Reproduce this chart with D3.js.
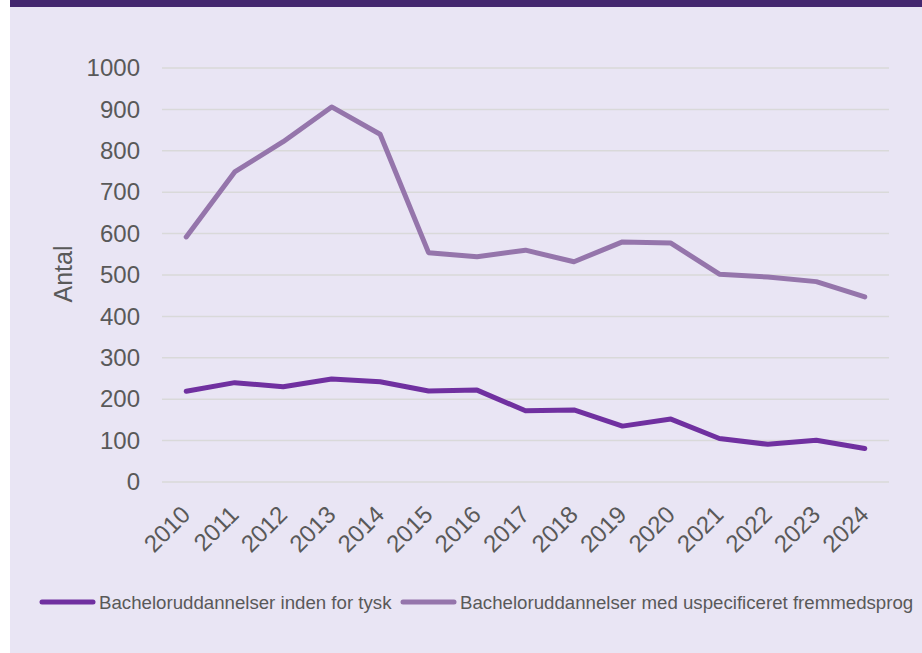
<!DOCTYPE html>
<html lang="da">
<head>
<meta charset="UTF-8">
<title>Bacheloruddannelser</title>
<script src="https://d3js.org/d3.v7.min.js"></script>
<style>
  html, body { margin: 0; padding: 0; background: #ffffff; }
  text { font-family: "Liberation Sans", Arial, sans-serif; fill: #595959; }
</style>
</head>
<body>
<div class="canvas"></div>
<script>
// data
const years = ['2010','2011','2012','2013','2014','2015','2016','2017','2018','2019','2020','2021','2022','2023','2024'];
const tysk = [219, 240, 230, 249, 242, 220, 222, 172, 174, 135, 152, 105, 91, 101, 81];
const uspec = [592, 749, 822, 906, 840, 554, 544, 560, 532, 580, 577, 502, 495, 484, 447];
const yTicks = [0, 100, 200, 300, 400, 500, 600, 700, 800, 900, 1000];
const seriesNames = ['Bacheloruddannelser inden for tysk', 'Bacheloruddannelser med uspecificeret fremmedsprog'];
const seriesColors = ['#7030a0', '#9575ab'];

const width = 922, height = 653;
const [ml, mr, mt, mb] = [162, 33, 68, 171]; // plot area 162..889 x 68..482

const svg = d3.select('.canvas').append('svg')
  .attr('width', width).attr('height', height);

// background panel and top bar
svg.append('rect').attr('x', 10).attr('y', 0).attr('width', width - 10).attr('height', height)
  .attr('fill', '#e9e5f4');
svg.append('rect').attr('x', 10).attr('y', 0).attr('width', width - 10).attr('height', 7)
  .attr('fill', '#44276f');

const x = d3.scalePoint().domain(years)
  .range([ml, width - mr]).padding(0.5);
const y = d3.scaleLinear().domain([0, 1000]).range([height - mb, mt]);

// gridlines
svg.append('g').selectAll('line').data(yTicks).join('line')
  .attr('x1', ml).attr('x2', width - mr)
  .attr('y1', d => y(d)).attr('y2', d => y(d))
  .attr('stroke', '#d9d9d9').attr('stroke-width', 1.5);

// y axis labels
const yAxis = d3.axisLeft(y).tickValues(yTicks).tickFormat(d3.format('d')).tickSize(0).tickPadding(0);
const yG = svg.append('g').attr('transform', `translate(140,0)`).call(yAxis);
yG.select('.domain').remove();
yG.selectAll('text').style('font-size', '24px');

// x axis labels
const xAxis = d3.axisBottom(x).tickSize(0).tickPadding(0);
const xG = svg.append('g').attr('transform', `translate(0,${height - mb})`).call(xAxis);
xG.select('.domain').remove();
xG.selectAll('text')
  .style('font-size', '24px')
  .attr('text-anchor', 'end')
  .attr('dy', null).attr('y', null)
  .attr('transform', 'translate(5,34) rotate(-45)');

// y title
svg.append('text')
  .attr('transform', 'translate(72,274) rotate(-90)')
  .attr('text-anchor', 'middle')
  .style('font-size', '25px')
  .text('Antal');

// lines
const line = d3.line().x((d, i) => x(years[i])).y(d => y(d));
[tysk, uspec].forEach((vals, k) => {
  svg.append('path').datum(vals)
    .attr('d', line)
    .attr('fill', 'none')
    .attr('stroke', seriesColors[k])
    .attr('stroke-width', 5)
    .attr('stroke-linecap', 'round')
    .attr('stroke-linejoin', 'round');
});

// legend
const legendItems = [{x: 40, tx: 99}, {x: 401, tx: 460}];
legendItems.forEach((p, k) => {
  svg.append('line')
    .attr('x1', p.x + 2).attr('x2', p.x + 53)
    .attr('y1', 602).attr('y2', 602)
    .attr('stroke', seriesColors[k]).attr('stroke-width', 5)
    .attr('stroke-linecap', 'round');
  svg.append('text')
    .attr('x', p.tx).attr('y', 602).attr('dy', '0.35em')
    .style('font-size', '18.67px')
    .text(seriesNames[k]);
});
</script>
</body>
</html>
